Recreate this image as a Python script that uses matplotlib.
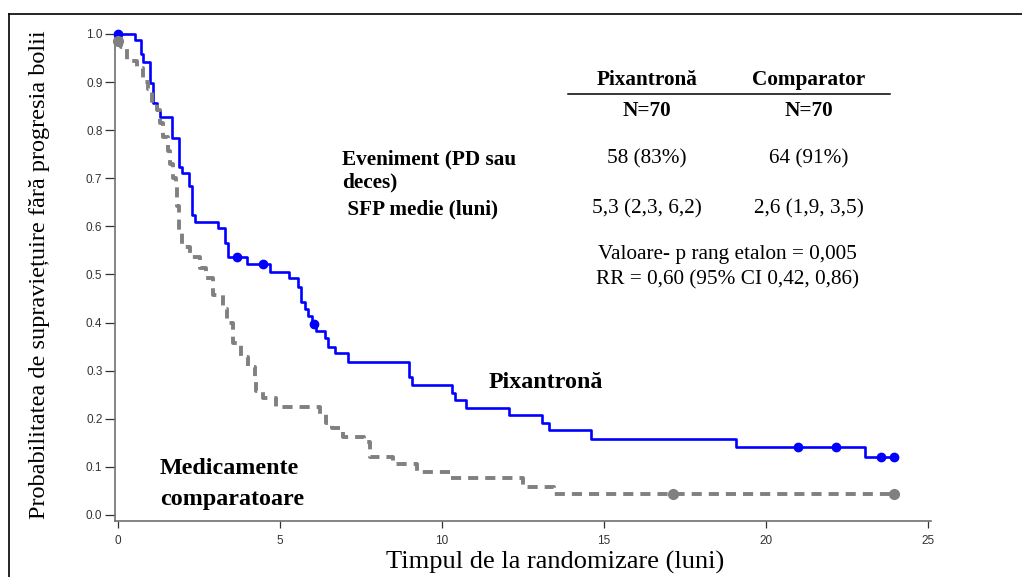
import matplotlib
matplotlib.use("Agg")
import matplotlib.pyplot as plt
from matplotlib.lines import Line2D

# ---------------- data ----------------
pix_times = [0, 0.51, 0.70, 0.78, 0.99, 1.07, 1.19, 1.29, 1.66, 1.89, 1.99, 2.18, 2.28, 2.38,
             3.08, 3.31, 3.39, 3.98, 4.68, 5.28, 5.56, 5.66, 5.76, 5.87, 6.00, 6.10, 6.40,
             6.48, 6.69, 7.10, 8.98, 9.08, 10.31, 10.40, 10.75, 12.08, 13.09, 13.29, 14.61,
             19.07, 23.05]
pix_surv = [1.0, 0.987, 0.958, 0.942, 0.899, 0.857, 0.843, 0.828, 0.783, 0.724, 0.710, 0.683,
            0.624, 0.610, 0.596, 0.566, 0.536, 0.521, 0.506, 0.492, 0.475, 0.443, 0.428, 0.414,
            0.397, 0.383, 0.367, 0.350, 0.336, 0.319, 0.286, 0.270, 0.254, 0.239, 0.223, 0.207,
            0.192, 0.177, 0.159, 0.142, 0.121]
pix_end = 23.96
pix_cens_t = [0, 3.68, 4.48, 6.05, 20.97, 22.15, 23.55, 23.96]

cmp_times = [0, 0.08, 0.27, 0.58, 0.76, 0.93, 1.04, 1.19, 1.29, 1.40, 1.55, 1.60, 1.70, 1.78,
             1.83, 1.89, 1.99, 2.22, 2.53, 2.73, 2.94, 3.25, 3.35, 3.55, 3.81, 4.02, 4.22, 4.27,
             4.48, 4.89, 6.23, 6.43, 6.60, 6.94, 7.58, 7.77, 8.48, 9.22, 10.25, 12.49, 13.47]
cmp_surv = [0.986, 0.972, 0.943, 0.929, 0.900, 0.886, 0.857, 0.843, 0.814, 0.786, 0.757, 0.729,
            0.700, 0.686, 0.643, 0.593, 0.557, 0.536, 0.514, 0.493, 0.457, 0.429, 0.400, 0.357,
            0.329, 0.307, 0.279, 0.257, 0.243, 0.225, 0.210, 0.191, 0.180, 0.163, 0.152, 0.121,
            0.106, 0.090, 0.076, 0.059, 0.044]
cmp_end = 23.96
cmp_cens_t = [0, 17.13, 23.96]

x_ticks = [0, 5, 10, 15, 20, 25]
y_ticks = [0.0, 0.1, 0.2, 0.3, 0.4, 0.5, 0.6, 0.7, 0.8, 0.9, 1.0]

col_headers = ["Pixantronă", "Comparator"]
col_n = ["N=70", "N=70"]
row_labels = ["Eveniment (PD sau\ndeces)", " SFP medie (luni)"]
events = ["58 (83%)", "64 (91%)"]
median_pfs = ["5,3 (2,3, 6,2)", "2,6 (1,9, 3,5)"]
stats_lines = ["Valoare- p rang etalon = 0,005", "RR = 0,60 (95% CI 0,42, 0,86)"]


def surv_at(times, surv, t):
    s = surv[0]
    for ti, si in zip(times, surv):
        if ti <= t:
            s = si
    return s


W, H = 1022, 577
fig = plt.figure(figsize=(W / 100, H / 100), dpi=100)
left, right, bottom, top = 115, 931, 521, 34
ax = fig.add_axes([left / W, 1 - bottom / H, (right - left) / W, (bottom - top) / H])

BLUE = "#0000FF"
GRAY = "#808080"

# Pixantrone
ax.step(pix_times + [pix_end], pix_surv + [pix_surv[-1]], where="post", color=BLUE, lw=1.9,
        clip_on=False, zorder=3)
ax.plot(pix_cens_t, [surv_at(pix_times, pix_surv, t) for t in pix_cens_t], "o", color=BLUE,
        ms=6, clip_on=False, zorder=4)

# Comparator
ax.step(cmp_times + [cmp_end], cmp_surv + [cmp_surv[-1]], where="post", color=GRAY, lw=2.8,
        dashes=(2.6, 1.8), clip_on=False, zorder=3)
ax.plot(cmp_cens_t, [surv_at(cmp_times, cmp_surv, t) for t in cmp_cens_t], "o", color=GRAY,
        ms=7, clip_on=False, zorder=4)

ax.set_xlim(-0.093, 25.09)
ax.set_ylim(-0.0125, 1.0)
ax.set_xticks(x_ticks)
ax.set_yticks(y_ticks)
ax.set_xticklabels([str(v) for v in x_ticks])
ax.set_yticklabels([f"{v:.1f}" for v in y_ticks])
for s in ["top", "right"]:
    ax.spines[s].set_visible(False)
for s in ["left", "bottom"]:
    ax.spines[s].set_color("#707070")
    ax.spines[s].set_linewidth(1.2)
ax.tick_params(axis="both", direction="out", colors="#333333", labelsize=8.5, width=0.9,
               length=5, pad=3)
ax.tick_params(axis="y", length=7, pad=2)
ax.tick_params(axis="x", pad=5)
for lab in ax.get_xticklabels() + ax.get_yticklabels():
    lab.set_family("Liberation Sans")

serif = "Liberation Serif"


def px(x, y):
    return (x / W, 1 - y / H)


fig.text(*px(555, 562), "Timpul de la randomizare (luni)", family=serif, fontsize=19,
         ha="center", va="center")
fig.text(*px(40, 275), "Probabilitatea de supraviețuire fără progresia bolii",
         family=serif, fontsize=17.5, rotation=90, ha="center", va="center")

# curve labels
fig.text(*px(546, 383), "Pixantronă", family=serif, fontsize=17.3, fontweight="bold",
         ha="center", va="center")
fig.text(*px(160, 468), "Medicamente", family=serif, fontsize=17.3, fontweight="bold",
         ha="left", va="center")
fig.text(*px(160, 499), "comparatoare", family=serif, fontsize=17.3, fontweight="bold",
         ha="left", va="center")

# table
TF = 15.3
cx = [647, 809]
for i in range(2):
    fig.text(*px(cx[i], 80), col_headers[i], family=serif, fontsize=TF, fontweight="bold",
             ha="center", va="center")
    fig.text(*px(cx[i], 111), col_n[i], family=serif, fontsize=TF, fontweight="bold",
             ha="center", va="center")
    fig.text(*px(cx[i], 159), events[i], family=serif, fontsize=TF, ha="center", va="center")
    fig.text(*px(cx[i], 209), median_pfs[i], family=serif, fontsize=TF, ha="center",
             va="center")
fig.add_artist(Line2D([568 / W, 890 / W], [1 - 94 / H, 1 - 94 / H], color="black", lw=1.1))

fig.text(*px(342, 159), row_labels[0].split("\n")[0], family=serif, fontsize=TF,
         fontweight="bold", ha="left", va="center")
fig.text(*px(342, 182), row_labels[0].split("\n")[1], family=serif, fontsize=TF,
         fontweight="bold", ha="left", va="center")
fig.text(*px(342, 209), row_labels[1], family=serif, fontsize=TF, fontweight="bold",
         ha="left", va="center")

fig.text(*px(727, 255), stats_lines[0], family=serif, fontsize=TF, ha="center", va="center")
fig.text(*px(727, 280), stats_lines[1], family=serif, fontsize=TF, ha="center", va="center")

# outer frame (left and top edges visible)
fig.add_artist(Line2D([8.5 / W, 8.5 / W], [1 - 13.5 / H, 0], color="black", lw=1.2))
fig.add_artist(Line2D([8.5 / W, 1], [1 - 13.5 / H, 1 - 13.5 / H], color="black", lw=1.2))

fig.savefig("out.png", dpi=100)
